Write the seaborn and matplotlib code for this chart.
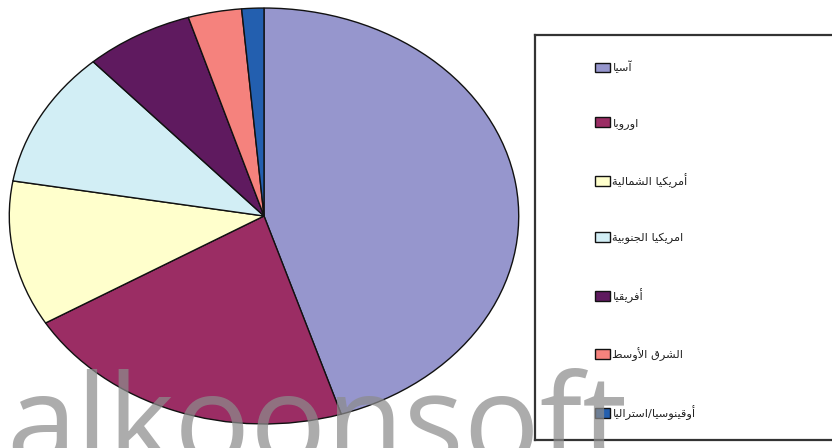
import matplotlib
matplotlib.use("Agg")
import matplotlib.pyplot as plt
import seaborn as sns

# share of each region (percent)
regions = ["آسيا", "اوروبا", "أمريكيا الشمالية", "امريكيا الجنوبية",
           "أفريقيا", "الشرق الأوسط", "أوقينوسيا/استراليا"]
shares = [45.1, 21.3, 11.3, 10.6, 6.9, 3.4, 1.4]
colors = ["#9696CD", "#9B2D64", "#FFFFCC", "#D2EEF5",
          "#5F1A5F", "#F5827D", "#235FAF"]

# matplotlib has no arabic shaping, so pick the presentation forms by hand
FORMS = {
    "\u0622": 0xFE81, "\u0623": 0xFE83, "\u0627": 0xFE8D, "\u0628": 0xFE8F,
    "\u0629": 0xFE93, "\u062A": 0xFE95, "\u062C": 0xFE9D, "\u0631": 0xFEAD,
    "\u0633": 0xFEB1, "\u0634": 0xFEB5, "\u0637": 0xFEC1, "\u0641": 0xFED1,
    "\u0642": 0xFED5, "\u0643": 0xFED9, "\u0644": 0xFEDD, "\u0645": 0xFEE1,
    "\u0646": 0xFEE5, "\u0648": 0xFEED, "\u064A": 0xFEF1,
}
RIGHT_ONLY = set("\u0622\u0623\u0627\u0629\u0631\u0648")
LAM_ALEF = {"\u0622": 0xFEF5, "\u0623": 0xFEF7, "\u0627": 0xFEFB}


def shape(text):
    toks = []
    for c in text:
        if c in LAM_ALEF and toks and toks[-1] == (FORMS["\u0644"], True):
            toks[-1] = (LAM_ALEF[c], False)
        elif c in FORMS:
            toks.append((FORMS[c], c not in RIGHT_ONLY))
        else:
            toks.append(c)
    out = []
    for i, t in enumerate(toks):
        if isinstance(t, str):
            out.append(t)
            continue
        base, dual = t
        prev = toks[i - 1] if i > 0 else None
        nxt = toks[i + 1] if i + 1 < len(toks) else None
        jp = isinstance(prev, tuple) and prev[1]
        jn = dual and isinstance(nxt, tuple)
        off = 3 if (jp and jn) else 2 if jn else 1 if jp else 0
        out.append(chr(base + off))
    return "".join(reversed(out))


sns.set_theme(style="white")
plt.rcParams["font.family"] = ["DejaVu Sans"]

W, H = 832, 448
fig = plt.figure(figsize=(W / 100, H / 100), dpi=100)
fig.patch.set_facecolor("white")

# pie is stretched into an ellipse in the original
ax = fig.add_axes([8 / W, 23 / H, 512 / W, 418 / H])
wedges, _ = ax.pie(shares, colors=sns.color_palette(colors), startangle=90,
                   counterclock=False,
                   wedgeprops=dict(edgecolor="#111111", linewidth=1.0))
ax.set_aspect("auto")
ax.set_xlim(-1.005, 1.005)
ax.set_ylim(-1.005, 1.005)
ax.axis("off")

# legend box
lax = fig.add_axes([535 / W, 8 / H, 300 / W, 405 / H])
lax.set_xticks([])
lax.set_yticks([])
for side in ["left", "top", "bottom"]:
    lax.spines[side].set_color("#333333")
    lax.spines[side].set_linewidth(1.6)
lax.spines["right"].set_visible(False)
lax.legend(wedges, [shape(r) for r in regions], loc="upper left",
           bbox_to_anchor=(0.165, 0.962), frameon=False, fontsize=8.2,
           handlelength=1.3, handleheight=0.95, handletextpad=0.25,
           labelspacing=3.86, labelcolor="#222222")

# watermark, partly below the bottom edge as in the original
fig.text(6 / W, -17 / H, "alkoonsoft", fontsize=91, family="Open Sans",
         color="#8C8C8C", alpha=0.72, va="baseline", zorder=10)

fig.savefig("out.png", dpi=100)
